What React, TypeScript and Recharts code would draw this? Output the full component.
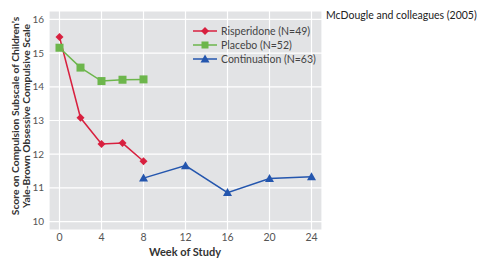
import { LineChart, Line, XAxis, YAxis, CartesianGrid } from 'recharts'

const weeks = [0, 2, 4, 6, 8, 12, 16, 20, 24]
const risperidone = [15.48, 13.08, 12.3, 12.33, 11.79, null, null, null, null]
const placebo = [15.16, 14.57, 14.17, 14.21, 14.22, null, null, null, null]
const continuation = [null, null, null, null, 11.29, 11.66, 10.86, 11.28, 11.33]
const xTicks = [0, 4, 8, 12, 16, 20, 24]
const yTicks = [10, 11, 12, 13, 14, 15, 16]

const RED = '#d8203f'
const GREEN = '#6db64c'
const BLUE = '#2456ae'
const FONT = 'Lato, "Open Sans", sans-serif'

const data = weeks.map((w, i) => ({
    week: w,
    risperidone: risperidone[i],
    placebo: placebo[i],
    continuation: continuation[i],
}))

const Diamond = (props: any) => {
    const { cx, cy } = props
    if (cx == null || cy == null) return null
    const r = 4
    return <path d={`M${cx},${cy - r}L${cx + r},${cy}L${cx},${cy + r}L${cx - r},${cy}Z`} fill={RED} />
}

const Square = (props: any) => {
    const { cx, cy } = props
    if (cx == null || cy == null) return null
    return <rect x={cx - 4} y={cy - 4} width={8} height={8} fill={GREEN} />
}

const Triangle = (props: any) => {
    const { cx, cy } = props
    if (cx == null || cy == null) return null
    return <path d={`M${cx},${cy - 4.5}L${cx + 4.5},${cy + 3.5}L${cx - 4.5},${cy + 3.5}Z`} fill={BLUE} />
}

const legendItems = [
    { label: 'Risperidone (N=49)', color: RED, shape: 'diamond' },
    { label: 'Placebo (N=52)', color: GREEN, shape: 'square' },
    { label: 'Continuation (N=63)', color: BLUE, shape: 'triangle' },
]

const LegendBox = () => (
    <div style={{ fontFamily: FONT, fontSize: 10.5, color: '#444' }}>
        {legendItems.map((it) => (
            <div key={it.label} style={{ display: 'flex', alignItems: 'center', height: 14.2 }}>
                <svg width={24} height={10} style={{ marginRight: 4 }}>
                    <line x1={0} y1={5} x2={24} y2={5} stroke={it.color} strokeWidth={1.5} />
                    {it.shape === 'diamond' && <path d="M12,1L16,5L12,9L8,5Z" fill={it.color} />}
                    {it.shape === 'square' && <rect x={8.5} y={1.5} width={7} height={7} fill={it.color} />}
                    {it.shape === 'triangle' && <path d="M12,0.5L16.5,8.5L7.5,8.5Z" fill={it.color} />}
                </svg>
                <span>{it.label}</span>
            </div>
        ))}
    </div>
)

export default function App() {
    return (
        <div style={{ position: 'absolute', left: 0, top: 0, width: 489, height: 261, background: '#fff' }}>
            <LineChart width={489} height={261} data={data} margin={{ top: 11, right: 167, bottom: 0, left: 9 }}>
                <CartesianGrid stroke="#ffffff" strokeWidth={1.2} fill="#e2e3e5" fillOpacity={1} />
                <XAxis
                    dataKey="week"
                    type="number"
                    domain={[-1, 25]}
                    ticks={xTicks}
                    axisLine={false}
                    tickLine={false}
                    tickSize={4}
                    tickMargin={0}
                    height={31}
                    tick={{ fill: '#555', fontSize: 10.5, fontFamily: FONT }}
                />
                <YAxis
                    type="number"
                    domain={[9.75, 16.25]}
                    ticks={yTicks}
                    axisLine={false}
                    tickLine={false}
                    tickSize={2}
                    tickMargin={3}
                    width={40}
                    tick={{ fill: '#555', fontSize: 10, fontFamily: FONT }}
                />
                <Line dataKey="risperidone" stroke={RED} strokeWidth={1.5} dot={<Diamond />} isAnimationActive={false} />
                <Line dataKey="placebo" stroke={GREEN} strokeWidth={1.5} dot={<Square />} isAnimationActive={false} />
                <Line dataKey="continuation" stroke={BLUE} strokeWidth={1.5} dot={<Triangle />} isAnimationActive={false} />
            </LineChart>
            <div style={{ position: 'absolute', left: 193, top: 24 }}>
                <LegendBox />
            </div>
            <div style={{
                position: 'absolute', left: 326, top: 9, fontFamily: FONT, fontSize: 10.5, color: '#222', whiteSpace: 'nowrap',
            }}>
                McDougle and colleagues (2005)
            </div>
            <div style={{
                position: 'absolute', left: 135, top: 245, width: 100, textAlign: 'center',
                fontFamily: FONT, fontSize: 11, fontWeight: 700, color: '#333', whiteSpace: 'nowrap',
            }}>
                Week of Study
            </div>
            <svg style={{ position: 'absolute', left: 0, top: 0 }} width={34} height={261}>
                <text transform="translate(19,116) rotate(-90)" textAnchor="middle" fontFamily={FONT} fontSize={10.3} fontWeight={700} fill="#333">
                    Score on Compulsion Subscale of Children’s
                </text>
                <text transform="translate(30,116) rotate(-90)" textAnchor="middle" fontFamily={FONT} fontSize={10.3} fontWeight={700} fill="#333">
                    Yale-Brown Obsessive Compulsive Scale
                </text>
            </svg>
        </div>
    )
}
